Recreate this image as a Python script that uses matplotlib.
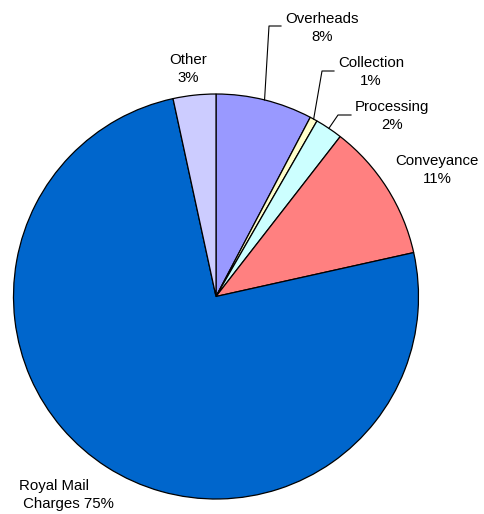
import numpy as np
import matplotlib.pyplot as plt

plt.rcParams['font.family'] = ['Liberation Sans', 'DejaVu Sans']

W, H = 484, 514

names = ["Overheads", "Collection", "Processing", "Conveyance", "Royal Mail Charges", "Other"]
shares = [7.7, 0.6, 2.2, 11.0, 75.0, 3.4]
colors = ["#9999FF", "#FFFFCC", "#CCFFFF", "#FF8080", "#0066CC", "#CCCCFF"]

# label text centres (pixels, from top-left) and leader elbows
label_pos = {
    "Overheads": (322, 28),
    "Collection": (371, 72),
    "Processing": (392, 116),
    "Conveyance": (437, 170),
    "Other": (188, 69),
}
leaders = {
    "Overheads": [(269, 26), (281, 26)],
    "Collection": [(322, 71), (334, 71)],
    "Processing": [(338, 115), (351, 115)],
}

cx, cy, r = 216, 296.5, 202.5

fig = plt.figure(figsize=(W / 100, H / 100), dpi=100)
ax = fig.add_axes([0, 0, 1, 1])

ax.pie(shares, colors=colors, startangle=90, counterclock=False,
       center=(cx, H - cy), radius=r,
       wedgeprops=dict(edgecolor='black', linewidth=0.9))

total = sum(shares)
start = 0.0
for name, v in zip(names, shares):
    mid = start + v / total * 360 / 2
    start += v / total * 360
    pct = "%d%%" % round(v / total * 100)
    if name in leaders:
        ex = cx + r * np.sin(np.radians(mid))
        ey = cy - r * np.cos(np.radians(mid))
        pts = [(ex, ey)] + leaders[name]
        ax.plot([p[0] for p in pts], [H - p[1] for p in pts], color='black', lw=0.8)
    if name in label_pos:
        x, y = label_pos[name]
        ax.text(x, H - y, name + "\n" + pct, ha='center', va='center',
                fontsize=10.8, linespacing=1.3)
    else:
        ax.text(19, H - 495, "Royal Mail\n Charges " + pct, ha='left', va='center',
                fontsize=10.8, linespacing=1.3, multialignment='left')

# pie() resets the limits, so set them afterwards
ax.set_xlim(0, W)
ax.set_ylim(0, H)
ax.set_aspect('equal')
ax.axis('off')

fig.savefig("out.png", dpi=100)
